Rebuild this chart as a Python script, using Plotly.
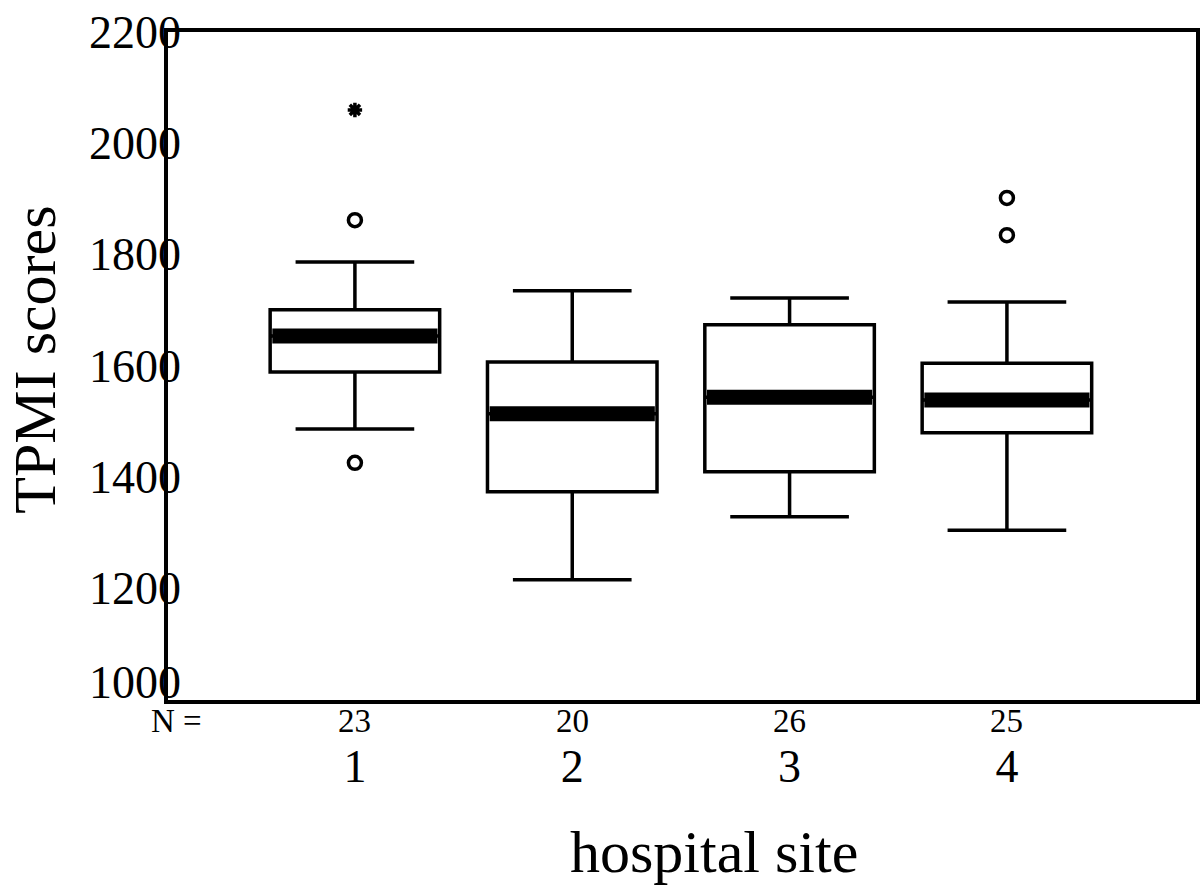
import plotly.graph_objects as go

# ---- data ----
sites = [1, 2, 3, 4]
site_labels = ["1", "2", "3", "4"]
n_counts = ["23", "20", "26", "25"]
q1 = [1589, 1374, 1410, 1480]
median = [1654, 1514, 1544, 1539]
q3 = [1701, 1607, 1674, 1605]
lower_whisker = [1487, 1216, 1329, 1305]
upper_whisker = [1787, 1735, 1722, 1715]
outlier_x = [1, 1, 4, 4]
outlier_y = [1862, 1426, 1902, 1835]
extreme_x = [1]
extreme_y = [2060]
y_ticks = [1000, 1200, 1400, 1600, 1800, 2000, 2200]

FONT = "Liberation Serif, Times New Roman, serif"
BOX_W = 0.78

fig = go.Figure()

fig.add_trace(go.Box(
    x=sites, q1=q1, median=median, q3=q3,
    lowerfence=lower_whisker, upperfence=upper_whisker,
    width=BOX_W, whiskerwidth=0.7,
    fillcolor="white", line=dict(color="black", width=3.5),
    boxpoints=False, showlegend=False, hoverinfo="skip",
))

# thick median bars
for xi, m in zip(sites, median):
    fig.add_trace(go.Scatter(
        x=[xi - BOX_W / 2 + 0.01, xi + BOX_W / 2 - 0.01], y=[m, m],
        mode="lines", line=dict(color="black", width=15),
        showlegend=False, hoverinfo="skip",
    ))

fig.add_trace(go.Scatter(
    x=outlier_x, y=outlier_y, mode="markers",
    marker=dict(symbol="circle-open", size=13, color="black",
                line=dict(width=3.5, color="black")),
    showlegend=False, hoverinfo="skip",
))
fig.add_trace(go.Scatter(
    x=extreme_x, y=extreme_y, mode="markers",
    marker=dict(symbol="asterisk-open", size=12, color="black",
                line=dict(width=3.5, color="black")),
    showlegend=False, hoverinfo="skip",
))

annotations = []
# y tick labels (overlapping the left axis, as in the original)
for v in y_ticks:
    annotations.append(dict(
        x=0.0148, y=v, xref="paper", yref="y", text=str(v), showarrow=False,
        font=dict(family=FONT, size=46, color="black"),
        xanchor="right", yanchor="middle",
        yshift=18 if v == y_ticks[0] else 0,
    ))
for xi, n in zip(sites, n_counts):
    annotations.append(dict(
        x=xi, y=-0.031, xref="x", yref="paper", text=n, showarrow=False,
        font=dict(family=FONT, size=33, color="black"),
        xanchor="center", yanchor="middle",
    ))
annotations.append(dict(
    x=0.008, y=-0.031, xref="paper", yref="paper", text="N =", showarrow=False,
    font=dict(family=FONT, size=33, color="black"),
    xanchor="center", yanchor="middle",
))
annotations.append(dict(
    x=-0.129, y=0.51, xref="paper", yref="paper", text="TPMI scores",
    showarrow=False, textangle=-90,
    font=dict(family=FONT, size=60, color="black"),
    xanchor="center", yanchor="middle",
))
annotations.append(dict(
    x=0.531, y=-0.228, xref="paper", yref="paper", text="hospital site",
    showarrow=False,
    font=dict(family=FONT, size=60, color="black"),
    xanchor="center", yanchor="middle",
))

fig.update_layout(
    width=1204, height=889,
    margin=dict(l=168, r=4, t=32, b=189),
    paper_bgcolor="white", plot_bgcolor="white",
    font=dict(family=FONT, color="black"),
    annotations=annotations,
    xaxis=dict(
        range=[0.14, 4.87], tickmode="array", tickvals=sites, ticktext=site_labels,
        showgrid=False, zeroline=False, showline=True, mirror=True,
        linecolor="black", linewidth=4, ticks="",
        tickfont=dict(family=FONT, size=46, color="black"),
        ticklabelstandoff=23,
    ),
    yaxis=dict(
        range=[1000, 2200], tickmode="array", tickvals=y_ticks,
        showticklabels=False,
        showgrid=False, zeroline=False, showline=True, mirror=True,
        linecolor="black", linewidth=4, ticks="",
    ),
)

fig.write_html("out.html")
